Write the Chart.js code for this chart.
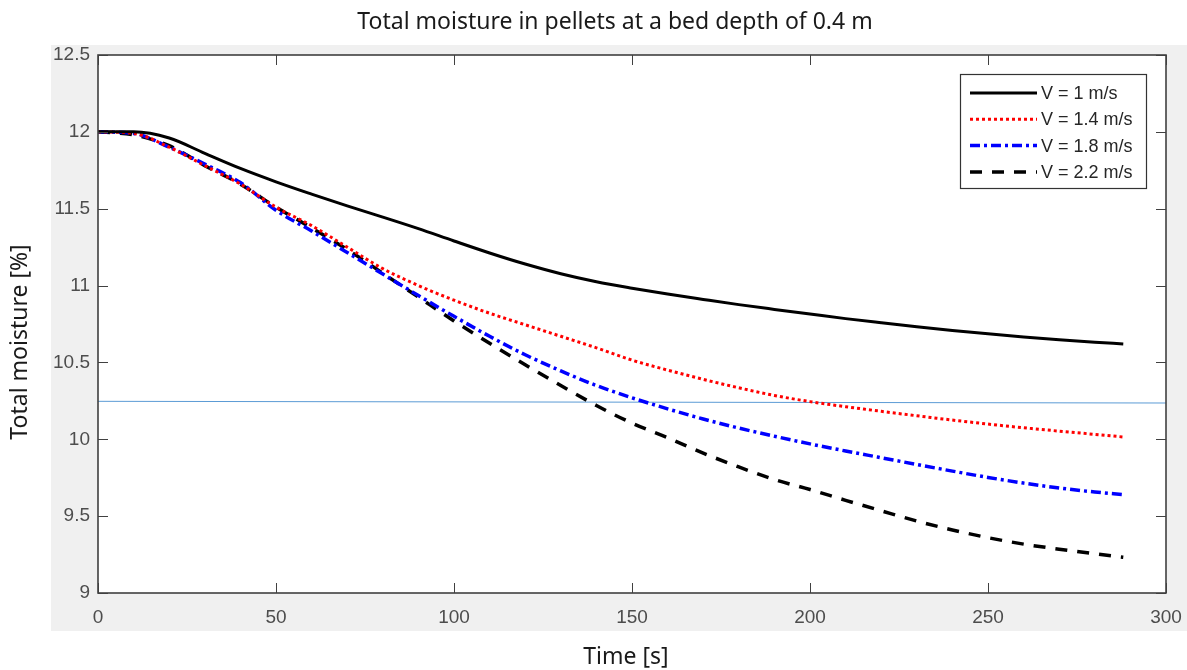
<!DOCTYPE html>
<html>
<head>
<meta charset="utf-8">
<script src="https://cdn.jsdelivr.net/npm/chart.js@4.4.1/dist/chart.umd.min.js"></script>
<style>
  html, body { margin: 0; padding: 0; background: #ffffff; }
  #wrap { width: 1187px; height: 670px; position: relative; }
</style>
</head>
<body>
<div id="wrap"><canvas id="moistureChart"></canvas></div>
<script>
// Time axis [s] and total moisture [%]
const times = [0, 10, 20, 30, 40, 50, 60, 70, 80, 90, 100, 110, 120, 130, 140, 150, 160, 170, 180, 190, 200, 210, 220, 230, 240, 250, 260, 270, 280, 288];
const v10 = [12.00, 12.00, 11.96, 11.86, 11.762, 11.675, 11.595, 11.518, 11.445, 11.37, 11.29, 11.212, 11.14, 11.077, 11.025, 10.983, 10.945, 10.91, 10.876, 10.845, 10.815, 10.785, 10.758, 10.732, 10.708, 10.686, 10.666, 10.648, 10.632, 10.62];
const v14 = [12.00, 11.99, 11.90, 11.78, 11.66, 11.51, 11.39, 11.25, 11.11, 11.00, 10.905, 10.82, 10.745, 10.67, 10.595, 10.515, 10.45, 10.39, 10.335, 10.285, 10.245, 10.212, 10.182, 10.153, 10.125, 10.099, 10.075, 10.053, 10.032, 10.015];
const v18 = [12.00, 11.99, 11.90, 11.79, 11.67, 11.49, 11.355, 11.215, 11.075, 10.935, 10.80, 10.67, 10.55, 10.445, 10.35, 10.27, 10.198, 10.132, 10.073, 10.02, 9.97, 9.924, 9.88, 9.836, 9.793, 9.752, 9.715, 9.683, 9.657, 9.64];
const v22 = [12.00, 11.98, 11.91, 11.78, 11.66, 11.51, 11.375, 11.235, 11.08, 10.925, 10.77, 10.625, 10.485, 10.35, 10.22, 10.105, 10.01, 9.91, 9.82, 9.738, 9.673, 9.603, 9.535, 9.468, 9.41, 9.36, 9.318, 9.285, 9.255, 9.232];
const refTimes = [0, 300];
const refLine = [10.247, 10.236];
const xTicks = [0, 50, 100, 150, 200, 250, 300];
const yTicks = [9, 9.5, 10, 10.5, 11, 11.5, 12, 12.5];
const seriesLabels = ['V = 1 m/s', 'V = 1.4 m/s', 'V = 1.8 m/s', 'V = 2.2 m/s'];

const toPoints = (xs, ys) => xs.map((x, i) => ({ x: x, y: ys[i] }));

// grey figure background, white axes, box, inward ticks, titles and legend
const frame = {
    id: 'frame',
    beforeDraw(chart) {
        const { ctx, chartArea: a } = chart;
        ctx.save();
        ctx.fillStyle = '#f0f0f0';
        ctx.fillRect(51, 45, chart.width - 51, 586);
        ctx.fillStyle = '#ffffff';
        ctx.fillRect(a.left, a.top, a.right - a.left, a.bottom - a.top);
        ctx.restore();
    },
    afterDraw(chart) {
        const { ctx, chartArea: a, scales } = chart;
        ctx.save();
        ctx.strokeStyle = '#404040';
        ctx.lineWidth = 1;
        ctx.beginPath();
        xTicks.forEach(t => {
            const px = Math.round(scales.x.getPixelForValue(t)) + 0.5;
            ctx.moveTo(px, a.bottom); ctx.lineTo(px, a.bottom - 10);
            ctx.moveTo(px, a.top); ctx.lineTo(px, a.top + 10);
        });
        yTicks.forEach(t => {
            const py = Math.round(scales.y.getPixelForValue(t)) + 0.5;
            ctx.moveTo(a.left, py); ctx.lineTo(a.left + 10, py);
            ctx.moveTo(a.right, py); ctx.lineTo(a.right - 10, py);
        });
        ctx.stroke();
        ctx.lineWidth = 1.6;
        ctx.strokeRect(a.left, a.top, a.right - a.left, a.bottom - a.top);

        // titles
        ctx.fillStyle = '#1a1a1a';
        ctx.font = '23px "Noto Sans"';
        ctx.textAlign = 'center';
        ctx.textBaseline = 'middle';
        ctx.fillText('Total moisture in pellets at a bed depth of 0.4 m', 615, 22);
        ctx.fillText('Time [s]', 626, 657);
        ctx.save();
        ctx.translate(20, 342);
        ctx.rotate(-Math.PI / 2);
        ctx.fillText('Total moisture [%]', 0, 0);
        ctx.restore();

        // legend box
        const lx = 960, ly = 74, lw = 186, lh = 114;
        ctx.fillStyle = '#ffffff';
        ctx.fillRect(lx, ly, lw, lh);
        ctx.strokeStyle = '#333333';
        ctx.lineWidth = 1.2;
        ctx.strokeRect(lx + 0.5, ly + 0.5, lw, lh);
        ctx.font = '18px "Liberation Sans"';
        ctx.textAlign = 'left';
        chart.data.datasets.slice(0, 4).forEach((ds, i) => {
            const ry = ly + 19 + i * 26.3;
            ctx.strokeStyle = ds.borderColor;
            ctx.lineWidth = ds.borderWidth;
            ctx.setLineDash(ds.borderDash || []);
            ctx.beginPath();
            ctx.moveTo(lx + 10, ry); ctx.lineTo(lx + 77, ry);
            ctx.stroke();
            ctx.setLineDash([]);
            ctx.fillStyle = '#262626';
            ctx.fillText(seriesLabels[i], lx + 81, ry + 1);
        });
        ctx.restore();
    }
};

new Chart(document.getElementById('moistureChart').getContext('2d'), {
    type: 'line',
    data: {
        datasets: [
            { label: seriesLabels[0], data: toPoints(times, v10), borderColor: '#000000', borderWidth: 3 },
            { label: seriesLabels[1], data: toPoints(times, v14), borderColor: '#ff0000', borderWidth: 3, borderDash: [3, 3] },
            { label: seriesLabels[2], data: toPoints(times, v18), borderColor: '#0000ff', borderWidth: 3.5, borderDash: [10, 4, 3, 4] },
            { label: seriesLabels[3], data: toPoints(times, v22), borderColor: '#000000', borderWidth: 3.5, borderDash: [12, 10] },
            { label: 'ref', data: toPoints(refTimes, refLine), borderColor: '#5b9bd5', borderWidth: 1, cubicInterpolationMode: 'default', tension: 0 }
        ]
    },
    options: {
        responsive: true,
        maintainAspectRatio: false,
        animation: false,
        layout: { padding: { left: 0, top: 55, right: 21, bottom: 0 } },
        elements: {
            point: { radius: 0 },
            line: { cubicInterpolationMode: 'monotone', fill: false, borderCapStyle: 'butt' }
        },
        plugins: {
            legend: { display: false },
            tooltip: { enabled: false }
        },
        scales: {
            x: {
                type: 'linear',
                min: 0,
                max: 300,
                afterBuildTicks: s => { s.ticks = xTicks.map(v => ({ value: v })); },
                afterFit: s => { s.height = 77; s.paddingLeft = 0; s.paddingRight = 0; },
                grid: { display: false, drawTicks: false },
                border: { display: false },
                ticks: { color: '#4d4d4d', font: { family: 'Liberation Sans', size: 19 }, padding: 13, maxRotation: 0, callback: v => String(v) }
            },
            y: {
                min: 9,
                max: 12.5,
                afterBuildTicks: s => { s.ticks = yTicks.map(v => ({ value: v })); },
                afterFit: s => { s.width = 98; s.paddingTop = 0; s.paddingBottom = 0; },
                grid: { display: false, drawTicks: false },
                border: { display: false },
                ticks: { color: '#4d4d4d', font: { family: 'Liberation Sans', size: 19 }, padding: 8, callback: v => String(v) }
            }
        }
    },
    plugins: [frame]
});
</script>
</body>
</html>
